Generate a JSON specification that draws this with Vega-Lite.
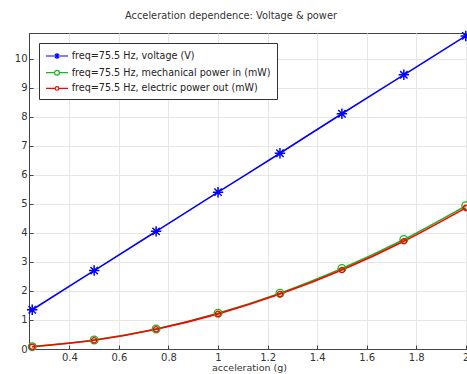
{
  "$schema": "https://vega.github.io/schema/vega-lite/v6.json",
  "width": 440,
  "height": 316,
  "autosize": {"type": "none"},
  "padding": {"left": 29, "top": 33, "right": 0, "bottom": 25},
  "background": "white",
  "config": {
    "font": "DejaVu Sans",
    "view": {"stroke": "#444", "strokeWidth": 1}
  },
  "title": {
    "text": "Acceleration dependence: Voltage & power",
    "fontSize": 9.8,
    "fontWeight": "normal",
    "color": "#333",
    "dx": -18,
    "offset": 7
  },
  "data": {
    "values": [
      {"a": 0.25, "series": "freq=75.5 Hz, voltage (V)", "v": 1.35},
      {"a": 0.5, "series": "freq=75.5 Hz, voltage (V)", "v": 2.7},
      {"a": 0.75, "series": "freq=75.5 Hz, voltage (V)", "v": 4.05},
      {"a": 1.0, "series": "freq=75.5 Hz, voltage (V)", "v": 5.4},
      {"a": 1.25, "series": "freq=75.5 Hz, voltage (V)", "v": 6.74},
      {"a": 1.5, "series": "freq=75.5 Hz, voltage (V)", "v": 8.1},
      {"a": 1.75, "series": "freq=75.5 Hz, voltage (V)", "v": 9.44},
      {"a": 2.0, "series": "freq=75.5 Hz, voltage (V)", "v": 10.78},
      {"a": 0.25, "series": "freq=75.5 Hz, mechanical power in (mW)", "v": 0.08},
      {"a": 0.5, "series": "freq=75.5 Hz, mechanical power in (mW)", "v": 0.31},
      {"a": 0.75, "series": "freq=75.5 Hz, mechanical power in (mW)", "v": 0.69},
      {"a": 1.0, "series": "freq=75.5 Hz, mechanical power in (mW)", "v": 1.23},
      {"a": 1.25, "series": "freq=75.5 Hz, mechanical power in (mW)", "v": 1.92},
      {"a": 1.5, "series": "freq=75.5 Hz, mechanical power in (mW)", "v": 2.77},
      {"a": 1.75, "series": "freq=75.5 Hz, mechanical power in (mW)", "v": 3.77},
      {"a": 2.0, "series": "freq=75.5 Hz, mechanical power in (mW)", "v": 4.93},
      {"a": 0.25, "series": "freq=75.5 Hz, electric power out (mW)", "v": 0.08},
      {"a": 0.5, "series": "freq=75.5 Hz, electric power out (mW)", "v": 0.3},
      {"a": 0.75, "series": "freq=75.5 Hz, electric power out (mW)", "v": 0.68},
      {"a": 1.0, "series": "freq=75.5 Hz, electric power out (mW)", "v": 1.21},
      {"a": 1.25, "series": "freq=75.5 Hz, electric power out (mW)", "v": 1.89},
      {"a": 1.5, "series": "freq=75.5 Hz, electric power out (mW)", "v": 2.72},
      {"a": 1.75, "series": "freq=75.5 Hz, electric power out (mW)", "v": 3.71},
      {"a": 2.0, "series": "freq=75.5 Hz, electric power out (mW)", "v": 4.86}
    ]
  },
  "encoding": {
    "x": {
      "field": "a",
      "type": "quantitative",
      "scale": {"domain": [0.237, 2.013], "nice": false, "zero": false},
      "axis": {
        "title": "acceleration (g)",
        "titleFontSize": 9.5,
        "titleFontWeight": "normal",
        "titleColor": "#333",
        "titlePadding": 0,
        "values": [0.4, 0.6, 0.8, 1.0, 1.2, 1.4, 1.6, 1.8, 2.0],
        "format": ".1~f",
        "labelFontSize": 10,
        "labelColor": "#333",
        "labelPadding": 7,
        "tickSize": -4,
        "tickColor": "#444",
        "domainColor": "#444",
        "gridColor": "#e6e6e6",
        "labelFlush": false
      }
    },
    "y": {
      "field": "v",
      "type": "quantitative",
      "scale": {"domain": [0, 10.88], "nice": false},
      "axis": {
        "title": null,
        "values": [0, 1, 2, 3, 4, 5, 6, 7, 8, 9, 10],
        "labelFontSize": 10,
        "labelColor": "#333",
        "labelPadding": 6,
        "tickSize": -4,
        "tickColor": "#444",
        "domainColor": "#444",
        "gridColor": "#e6e6e6",
        "labelFlush": false
      }
    },
    "color": {
      "field": "series",
      "type": "nominal",
      "scale": {
        "domain": [
          "freq=75.5 Hz, voltage (V)",
          "freq=75.5 Hz, mechanical power in (mW)",
          "freq=75.5 Hz, electric power out (mW)"
        ],
        "range": ["#0000ff", "#1db31d", "#ff0000"]
      },
      "legend": {
        "orient": "none",
        "legendX": 10,
        "legendY": 10,
        "title": null,
        "fillColor": "white",
        "strokeColor": "#333",
        "padding": 6,
        "rowPadding": 3.7,
        "labelFontSize": 9.6,
        "labelLimit": 400,
        "labelColor": "#222",
        "symbolSize": 144,
        "labelOffset": 12.7,
        "symbolStrokeWidth": 1.5,
        "encode": {
          "symbols": {
            "enter": {
              "shape": {
                "signal": "datum.value === 'freq=75.5 Hz, voltage (V)' ? 'M-1,0L2.67,0M0.33,0L1.33,0M0.83,-0.5L0.83,0.5M0.48,-0.35L1.18,0.35M0.48,0.35L1.18,-0.35' : (datum.value === 'freq=75.5 Hz, mechanical power in (mW)' ? 'M-1,0L0.43,0M1.23,0L2.67,0M0.43,0A0.4,0.4 0 1,0 1.23,0A0.4,0.4 0 1,0 0.43,0' : 'M-1,0L0.53,0M1.13,0L2.67,0M0.53,0A0.3,0.3 0 1,0 1.13,0A0.3,0.3 0 1,0 0.53,0')"
              }
            },
            "update": {
              "shape": {
                "signal": "datum.value === 'freq=75.5 Hz, voltage (V)' ? 'M-1,0L2.67,0M0.33,0L1.33,0M0.83,-0.5L0.83,0.5M0.48,-0.35L1.18,0.35M0.48,0.35L1.18,-0.35' : (datum.value === 'freq=75.5 Hz, mechanical power in (mW)' ? 'M-1,0L0.43,0M1.23,0L2.67,0M0.43,0A0.4,0.4 0 1,0 1.23,0A0.4,0.4 0 1,0 0.43,0' : 'M-1,0L0.53,0M1.13,0L2.67,0M0.53,0A0.3,0.3 0 1,0 1.13,0A0.3,0.3 0 1,0 0.53,0')"
              },
              "size": {"value": 144},
              "fill": {"value": "transparent"},
              "strokeWidth": {"value": 1.2}
            }
          }
        }
      }
    }
  },
  "layer": [
    {
      "mark": {"type": "line", "interpolate": "monotone", "strokeWidth": 1.6}
    },
    {
      "transform": [{"filter": "datum.series === 'freq=75.5 Hz, voltage (V)'"}],
      "mark": {"type": "point", "filled": false, "strokeWidth": 1.5, "opacity": 1, "size": 110, "shape": "M-1,0L1,0M0,-1L0,1M-0.7,-0.7L0.7,0.7M-0.7,0.7L0.7,-0.7"}
    },
    {
      "transform": [{"filter": "datum.series === 'freq=75.5 Hz, mechanical power in (mW)'"}],
      "mark": {"type": "point", "filled": false, "strokeWidth": 1.3, "opacity": 1, "size": 60, "shape": "circle"}
    },
    {
      "transform": [{"filter": "datum.series === 'freq=75.5 Hz, electric power out (mW)'"}],
      "mark": {"type": "point", "filled": false, "strokeWidth": 1.3, "opacity": 1, "size": 28, "shape": "circle"}
    }
  ]
}
